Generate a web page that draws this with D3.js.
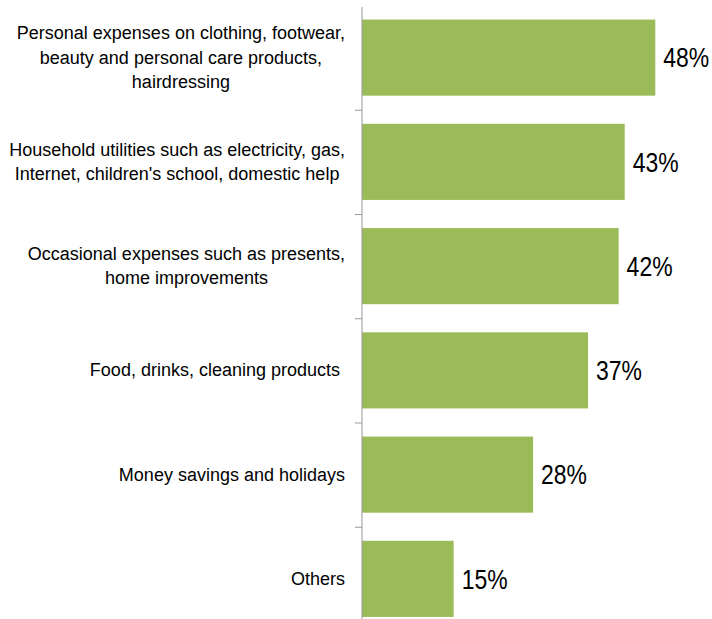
<!DOCTYPE html>
<html>
<head>
<meta charset="utf-8">
<script src="https://cdn.jsdelivr.net/npm/d3@7"></script>
<style>
  html, body { margin: 0; padding: 0; background: #fff; }
  svg { display: block; }
  text { font-family: "Liberation Sans", Arial, sans-serif; fill: #000; }
</style>
</head>
<body>
<svg id="chart" width="712" height="619"></svg>
<script>
// Spending categories (one entry per bar, lines split by "\n")
const categories = [
  "Personal expenses on clothing, footwear,\nbeauty and personal care products,\nhairdressing",
  "Household utilities such as electricity, gas,\nInternet, children's school, domestic help",
  "Occasional expenses such as presents,\nhome improvements",
  "Food, drinks, cleaning products ",
  "Money savings and holidays",
  "Others"
];
// Share of respondents, percent
const values = [48, 43, 42, 37, 28, 15];
const valueLabels = ["48%", "43%", "42%", "37%", "28%", "15%"];

const svg = d3.select("#chart");
const axisX = 362;
const plotTop = 5.5, step = 104.25;

const y = d3.scaleBand()
  .domain(d3.range(categories.length))
  .range([plotTop, plotTop + step * categories.length])
  .paddingInner(0.27)
  .paddingOuter(0.135);

const x = d3.scaleLinear().domain([0, 50]).range([axisX, axisX + 305.5]);

// bars
svg.append("g").selectAll("rect")
  .data(values)
  .join("rect")
  .attr("x", x(0))
  .attr("y", (d, i) => y(i))
  .attr("width", d => x(d) - x(0))
  .attr("height", y.bandwidth())
  .attr("fill", "#9BBB59");

// category axis: ticks sit on the boundaries between bands
const boundary = d3.scaleLinear().domain([0, categories.length]).range([plotTop, plotTop + step * categories.length]);
const axisG = svg.append("g")
  .attr("transform", `translate(${axisX},0)`)
  .call(d3.axisLeft(boundary).tickValues(d3.range(1, categories.length)).tickSize(7).tickSizeOuter(0).tickFormat(""));
axisG.select(".domain").attr("stroke", "#999").attr("d", `M0,7V640`);
axisG.selectAll(".tick line").attr("stroke", "#999");

// category labels: block right-aligned at 345, lines centred within block
const lineH = 24.5;
const labelG = svg.append("g");
categories.forEach((c, i) => {
  const lines = c.split("\n");
  const cy = y(i) + y.bandwidth() / 2;
  const g = labelG.append("g");
  const texts = lines.map((ln, k) => g.append("text")
    .attr("font-size", 18)
    .style("white-space", "pre")
    .attr("text-anchor", "middle")
    .attr("dominant-baseline", "central")
    .attr("y", cy + (k - (lines.length - 1) / 2) * lineH)
    .text(ln));
  const maxW = d3.max(texts, t => t.node().getComputedTextLength());
  texts.forEach(t => t.attr("x", 345 - maxW / 2));
});

// value labels
const sx = 0.82;
svg.append("g").selectAll("text")
  .data(values)
  .join("text")
  .attr("font-size", 28)
  .attr("dominant-baseline", "central")
  .attr("transform", (d, i) => `translate(${x(d) + 8},${y(i) + y.bandwidth() / 2}) scale(${sx},1)`)
  .text((d, i) => valueLabels[i]);
</script>
</body>
</html>
